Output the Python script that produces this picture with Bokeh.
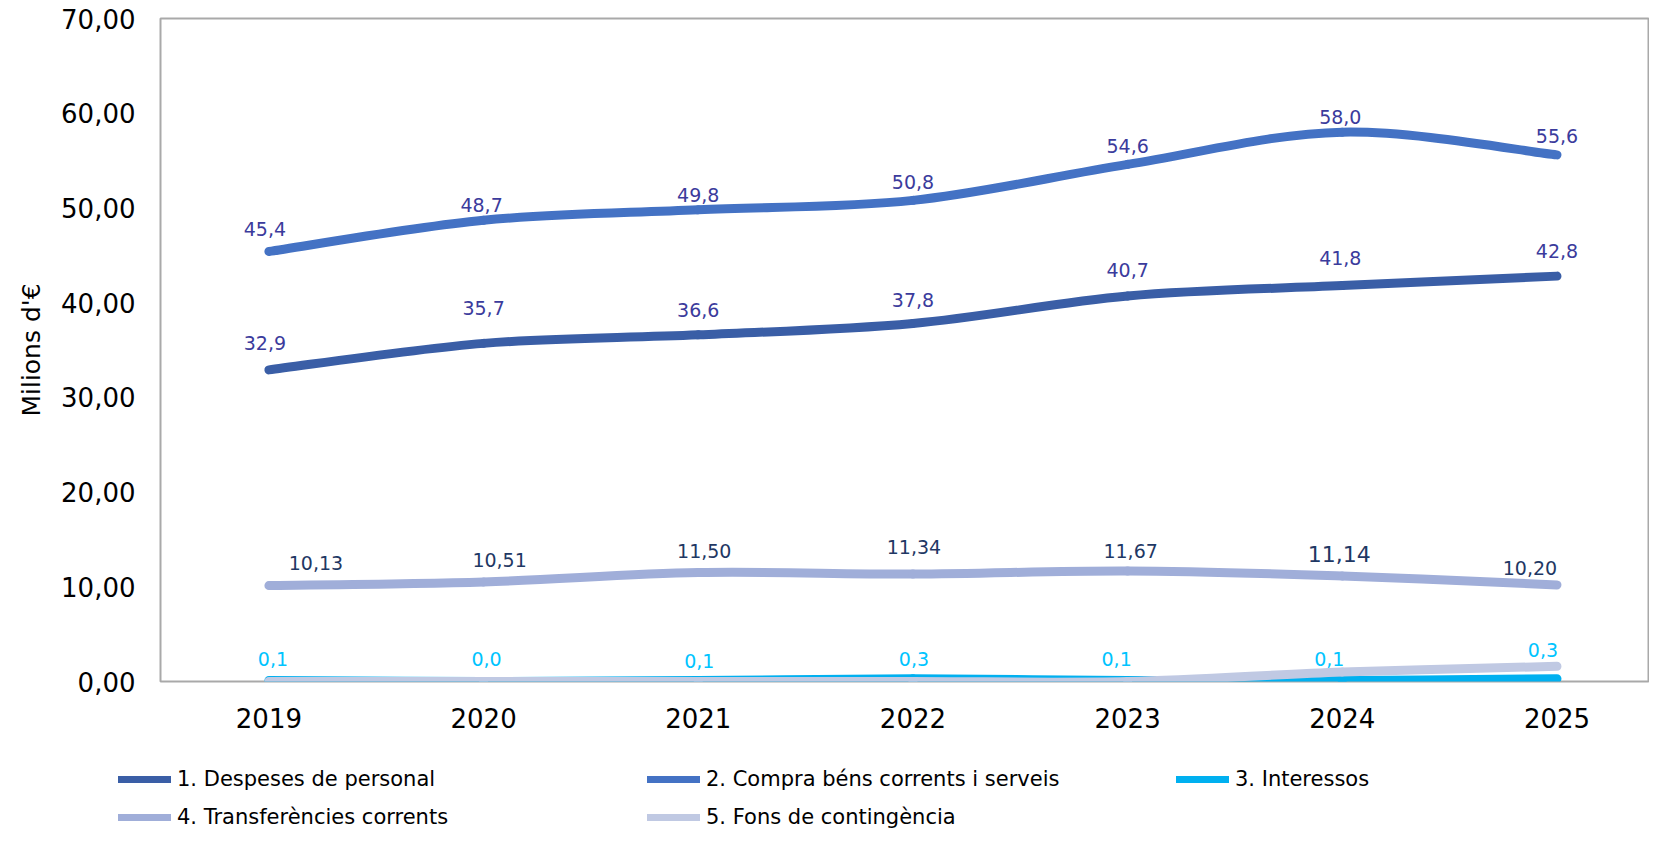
from bokeh.plotting import figure
from bokeh.layouts import column
from bokeh.models import Range1d, FixedTicker, Legend, LegendItem, ColumnDataSource
from bokeh.embed import file_html
from bokeh.resources import INLINE
from bokeh.core.properties import value

# ---------------- data ----------------
years = ["2019", "2020", "2021", "2022", "2023", "2024", "2025"]
despeses_personal = [32.9, 35.7, 36.6, 37.8, 40.7, 41.8, 42.8]
compra_bens = [45.4, 48.7, 49.8, 50.8, 54.6, 58.0, 55.6]
interessos = [0.1, 0.0, 0.1, 0.3, 0.1, 0.1, 0.3]
transferencies = [10.13, 10.51, 11.50, 11.34, 11.67, 11.14, 10.20]
fons_contingencia = [0.0, 0.0, 0.0, 0.0, 0.0, 1.0, 1.6]

series_names = [
    "1. Despeses de personal",
    "2. Compra béns corrents i serveis",
    "3. Interessos",
    "4. Transferències corrents",
    "5. Fons de contingència",
]
y_ticks = [0, 10, 20, 30, 40, 50, 60, 70]
y_tick_labels = ["0,00", "10,00", "20,00", "30,00", "40,00", "50,00", "60,00", "70,00"]
y_title = "Milions d'€"

# ---------------- styles ----------------
FONT = "DejaVu Sans"
line_colors = ["#3A5EA6", "#4472C4", "#00B0F0", "#A0AED9", "#C0C9E3"]
label_colors = ["#3B3B9C", "#3B3B9C", "#00C4FF", "#1F3864", None]
decimals = [1, 1, 1, 2, None]
# label offsets in screen pixels (dx right, dy up)
label_dx = [
    [-4, 0, 0, 0, 0, -2, 0],
    [-4, -2, 0, 0, 0, -2, 0],
    [4, 3, 1, 1, -11, -13, -14],
    [47, 16, 6, 1, 3, -3, -27],
]
label_dy = [
    [27, 35, 25, 23, 26, 28, 25],
    [22, 15, 15, 18, 18, 15, 19],
    [22, 23, 20, 20, 22, 22, 29],
    [23, 22, 22, 27, 20, 22, 17],
]
label_sizes = [
    ["19px"] * 7,
    ["19px"] * 7,
    ["19px"] * 7,
    ["19px", "19px", "19px", "19px", "19px", "22px", "19px"],
]

all_series = [despeses_personal, compra_bens, interessos, transferencies, fons_contingencia]

W = 1649
H_MAIN = 739
H_LEG = 89
X_START, X_END = -0.505, 6.431

p = figure(
    width=W, height=H_MAIN, output_backend="svg", toolbar_location=None,
    x_range=Range1d(X_START, X_END), y_range=Range1d(0, 70),
    min_border_left=160, min_border_right=0, min_border_top=18, min_border_bottom=58,
)
p.frame_align = False
p.background_fill_color = "white"
p.border_fill_color = "white"
p.outline_line_color = "#A9A9A9"
p.outline_line_width = 2
p.xgrid.grid_line_color = None
p.ygrid.grid_line_color = None

xs = list(range(len(years)))

# y axis
p.yaxis.ticker = FixedTicker(ticks=y_ticks)
p.yaxis.major_label_overrides = {t: l for t, l in zip(y_ticks, y_tick_labels)}
p.yaxis.axis_line_color = None
p.yaxis.major_tick_line_color = None
p.yaxis.minor_tick_line_color = None
p.yaxis.major_tick_out = 0
p.yaxis.major_tick_in = 0
p.yaxis.major_label_standoff = 25
p.yaxis.major_label_text_font = FONT
p.yaxis.major_label_text_font_size = "26px"
p.yaxis.major_label_text_color = "#000000"
p.yaxis.axis_label = y_title
p.yaxis.axis_label_text_font = FONT
p.yaxis.axis_label_text_font_size = "25px"
p.yaxis.axis_label_text_font_style = "normal"
p.yaxis.axis_label_text_color = "#000000"
p.yaxis.axis_label_standoff = 12

# x axis
p.xaxis.ticker = FixedTicker(ticks=xs)
p.xaxis.major_label_overrides = {i: y for i, y in zip(xs, years)}
p.xaxis.axis_line_color = None
p.xaxis.major_tick_line_color = None
p.xaxis.minor_tick_line_color = None
p.xaxis.major_tick_out = 0
p.xaxis.major_tick_in = 0
p.xaxis.major_label_standoff = 26
p.xaxis.major_label_text_font = FONT
p.xaxis.major_label_text_font_size = "26px"
p.xaxis.major_label_text_color = "#000000"


def bezier_source(xv, yv, t=1.0 / 6.0):
    n = len(xv)
    d = dict(x0=[], y0=[], x1=[], y1=[], cx0=[], cy0=[], cx1=[], cy1=[])
    for i in range(n - 1):
        ip = max(i - 1, 0)
        inn = min(i + 2, n - 1)
        d["x0"].append(xv[i]); d["y0"].append(yv[i])
        d["x1"].append(xv[i + 1]); d["y1"].append(yv[i + 1])
        d["cx0"].append(xv[i] + (xv[i + 1] - xv[ip]) * t)
        d["cy0"].append(yv[i] + (yv[i + 1] - yv[ip]) * t)
        d["cx1"].append(xv[i + 1] - (xv[inn] - xv[i]) * t)
        d["cy1"].append(yv[i + 1] - (yv[inn] - yv[i]) * t)
    return ColumnDataSource(d)


for k, (vals, col) in enumerate(zip(all_series, line_colors)):
    src = bezier_source(xs, vals)
    p.bezier(x0="x0", y0="y0", x1="x1", y1="y1", cx0="cx0", cy0="cy0", cx1="cx1", cy1="cy1",
             source=src, line_color=col, line_width=9, line_cap="round")

# data labels
for k in range(4):
    vals = all_series[k]
    fmt = "{:.%df}" % decimals[k]
    texts = [fmt.format(v).replace(".", ",") for v in vals]
    src = ColumnDataSource(dict(
        x=xs, y=vals, text=texts,
        dx=label_dx[k], dy=[-v for v in label_dy[k]], size=label_sizes[k],
    ))
    p.text(x="x", y="y", text="text", source=src, x_offset="dx", y_offset="dy",
           text_align="center", text_baseline="middle",
           text_font=value(FONT), text_font_size="size", text_color=label_colors[k])

# ---------------- legend strip ----------------
# the strip's y range lies below every value, so its series lines stay off-screen
q = figure(
    width=W, height=H_LEG, output_backend="svg", toolbar_location=None,
    x_range=Range1d(X_START, X_END), y_range=Range1d(-20, -10),
    x_axis_type=None, y_axis_type=None,
    min_border_left=0, min_border_right=0, min_border_top=0, min_border_bottom=0,
)
q.frame_align = False
q.outline_line_color = None
q.xgrid.grid_line_color = None
q.ygrid.grid_line_color = None
q.background_fill_color = "white"
q.border_fill_color = "white"

legend_items = []
for name, vals, col in zip(series_names, all_series, line_colors):
    r = q.line(x=xs, y=vals, line_color=col, line_width=7, line_cap="round")
    legend_items.append(LegendItem(label=name, renderers=[r]))

legend = Legend(
    items=legend_items, location=(118, -8), orientation="horizontal", ncols=3,
    glyph_width=53, glyph_height=38, label_standoff=6, label_width=470, label_height=38,
    spacing=0, padding=0, margin=0, border_line_color=None, background_fill_alpha=0,
    label_text_font=FONT, label_text_font_size="21px", label_text_color="#000000",
)
q.add_layout(legend, "center")

layout = column(p, q, spacing=0)
open("out.html", "w").write(file_html(layout, INLINE))
